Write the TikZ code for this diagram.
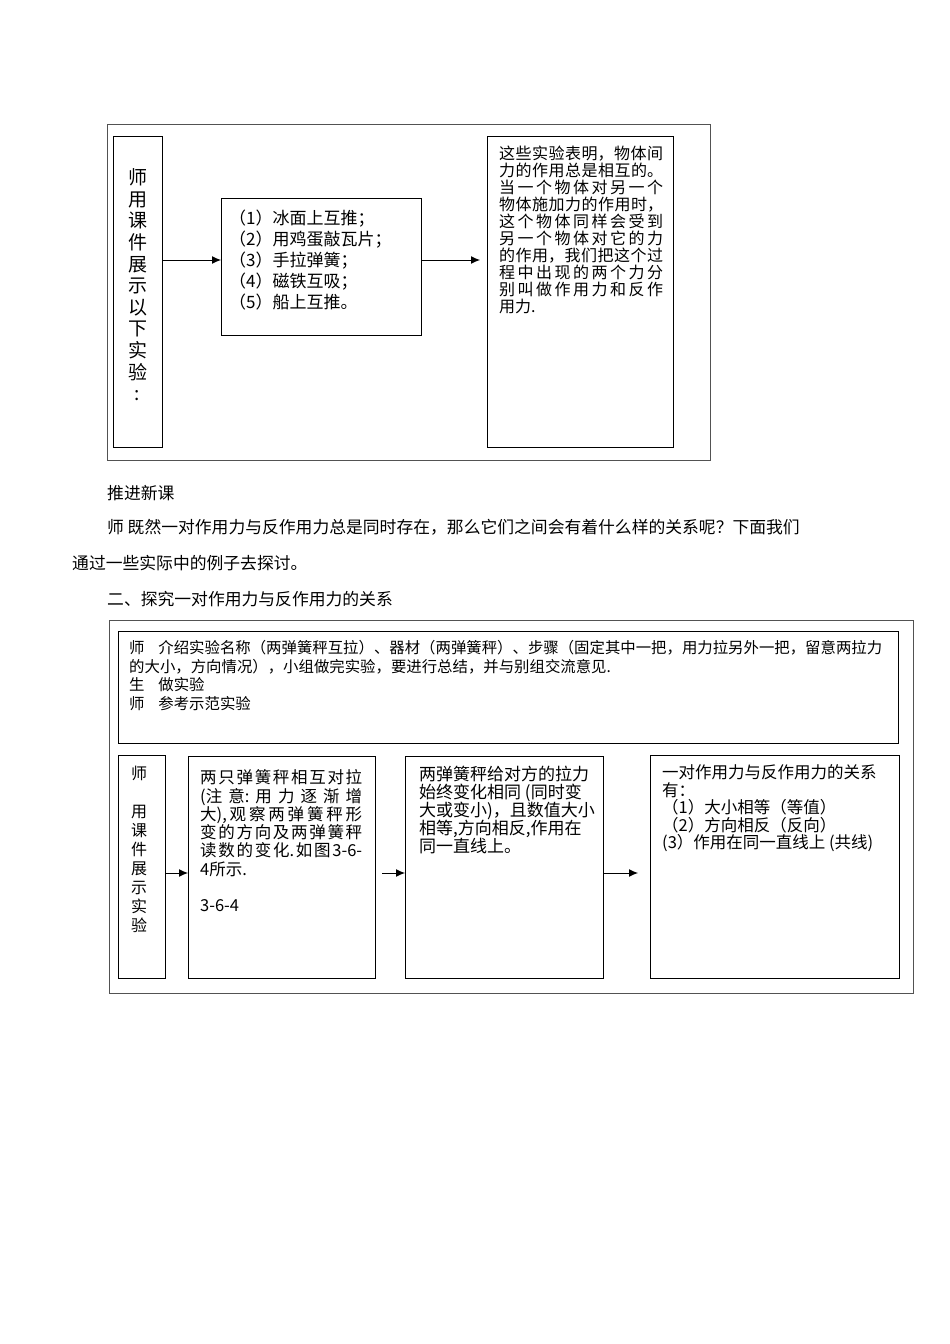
\documentclass[tikz,border=0pt]{standalone}
\usepackage{fontspec}
\setmainfont{Noto Sans CJK SC}
\usetikzlibrary{arrows.meta}
\XeTeXlinebreaklocale "zh"
\XeTeXlinebreakskip=0pt plus 6pt
\tolerance=10000
\hbadness=10000
\begin{document}
\begin{tikzpicture}[x=1pt,y=-1pt,
  box/.style={draw=black, line width=1.2pt, inner sep=0pt, anchor=north west},
  frame/.style={draw=black!68, line width=1.4pt, inner sep=0pt, anchor=north west},
  txt/.style={inner sep=0pt, anchor=north west, align=left},
  jtxt/.style={inner sep=0pt, anchor=north west, align=justify},
  arr/.style={-{Latex[length=9pt,width=8pt]}, line width=1pt}]
\useasboundingbox (0,0) rectangle (950,1344);

% ---------- upper diagram ----------
\node[frame, minimum width=603pt, minimum height=336pt] (F1) at (107,124) {};
\node[box, minimum width=49pt, minimum height=311pt] (L1) at (113,136) {};
\node[box, minimum width=200pt, minimum height=137pt] (M1) at (221,198) {};
\node[box, minimum width=186pt, minimum height=311pt] (R1) at (487,136) {};

\node[inner sep=0pt, anchor=north, align=center, font=\fontsize{19}{21.6}\selectfont] (t1) at (137.5,168.5)
  {师\\用\\课\\件\\展\\示\\以\\下\\实\\验\\:};
\node[txt, font=\fontsize{17}{21.2}\selectfont] (t2) at (229,209.3)
  {（1）冰面上互推；\\（2）用鸡蛋敲瓦片；\\（3）手拉弹簧；\\（4）磁铁互吸；\\（5）船上互推。};
\node[jtxt, text width=164pt, font=\fontsize{16}{17}\selectfont] (t3) at (499,146)
  {\noindent 这些实验表明，物体间\linebreak 力的作用总是相互的。\linebreak 当一个物体对另一个\linebreak 物体施加力的作用时，\linebreak 这个物体同样会受到\linebreak 另一个物体对它的力\linebreak 的作用，我们把这个过\linebreak 程中出现的两个力分\linebreak 别叫做作用力和反作\linebreak 用力.};

\coordinate (a1) at (0,260);
\draw[arr] (L1.east |- a1) -- (M1.west |- a1);
\draw[arr] (M1.east |- a1) -- ([xshift=-7pt]R1.west |- a1);

% ---------- body text ----------
\node[txt, font=\fontsize{16.8}{20}\selectfont] (p1) at (107,485.5) {推进新课};
\node[txt, font=\fontsize{16.8}{20}\selectfont] (p2) at (107,519.5) {师 既然一对作用力与反作用力总是同时存在，那么它们之间会有着什么样的关系呢？下面我们};
\node[txt, font=\fontsize{16.8}{20}\selectfont] (p3) at (72,555.5) {通过一些实际中的例子去探讨。};
\node[txt, font=\fontsize{16.8}{20}\selectfont] (p4) at (107,591.5) {二、探究一对作用力与反作用力的关系};

% ---------- lower diagram ----------
\node[frame, minimum width=804pt, minimum height=373pt] (F2) at (109,620) {};
\node[box, minimum width=780pt, minimum height=112pt] (T2) at (118,631) {};
\node[txt, font=\fontsize{15.4}{18.7}\selectfont] (t4) at (129,640)
  {师\hspace{0.9em}介绍实验名称（两弹簧秤互拉）、器材（两弹簧秤）、步骤（固定其中一把，用力拉另外一把，留意两拉力\\
   的大小，方向情况），小组做完实验，要进行总结，并与别组交流意见.\\
   生\hspace{0.9em}做实验\\
   师\hspace{0.9em}参考示范实验};

\node[box, minimum width=47pt, minimum height=223pt] (A) at (118,755) {};
\node[box, minimum width=187pt, minimum height=222pt] (B) at (188,756) {};
\node[box, minimum width=198pt, minimum height=222pt] (C) at (405,756) {};
\node[box, minimum width=249pt, minimum height=223pt] (D) at (650,755) {};

\node[inner sep=0pt, anchor=north, align=center, font=\fontsize{16}{19}\selectfont] (tA) at (139,765.8)
  {师\\[19pt]用\\课\\件\\展\\示\\实\\验};
\node[jtxt, text width=162pt, font=\fontsize{16.5}{18.3}\selectfont] (tB) at (200,769.6)
  {\noindent 两只弹簧秤相互对拉\linebreak (注意:用力逐渐增\linebreak 大),观察两弹簧秤形\linebreak 变的方向及两弹簧秤\linebreak 读数的变化.如图3-6-\linebreak 4所示.\\[18.3pt]3-6-4};
\node[txt, font=\fontsize{17}{18.2}\selectfont] (tC) at (419,765.4)
  {两弹簧秤给对方的拉力\\始终变化相同 (同时变\\大或变小)，且数值大小\\相等,方向相反,作用在\\同一直线上。};
\node[txt, font=\fontsize{16.5}{17.5}\selectfont] (tD) at (662,764.6)
  {一对作用力与反作用力的关系\\有：\\（1）大小相等（等值）\\（2）方向相反（反向）\\(3）作用在同一直线上 (共线)};

\coordinate (a2) at (0,873);
\draw[arr] (A.east |- a2) -- (B.west |- a2);
\draw[arr] ([xshift=6pt]B.east |- a2) -- (C.west |- a2);
\draw[arr] (C.east |- a2) -- ([xshift=-12pt]D.west |- a2);
\end{tikzpicture}
\end{document}
